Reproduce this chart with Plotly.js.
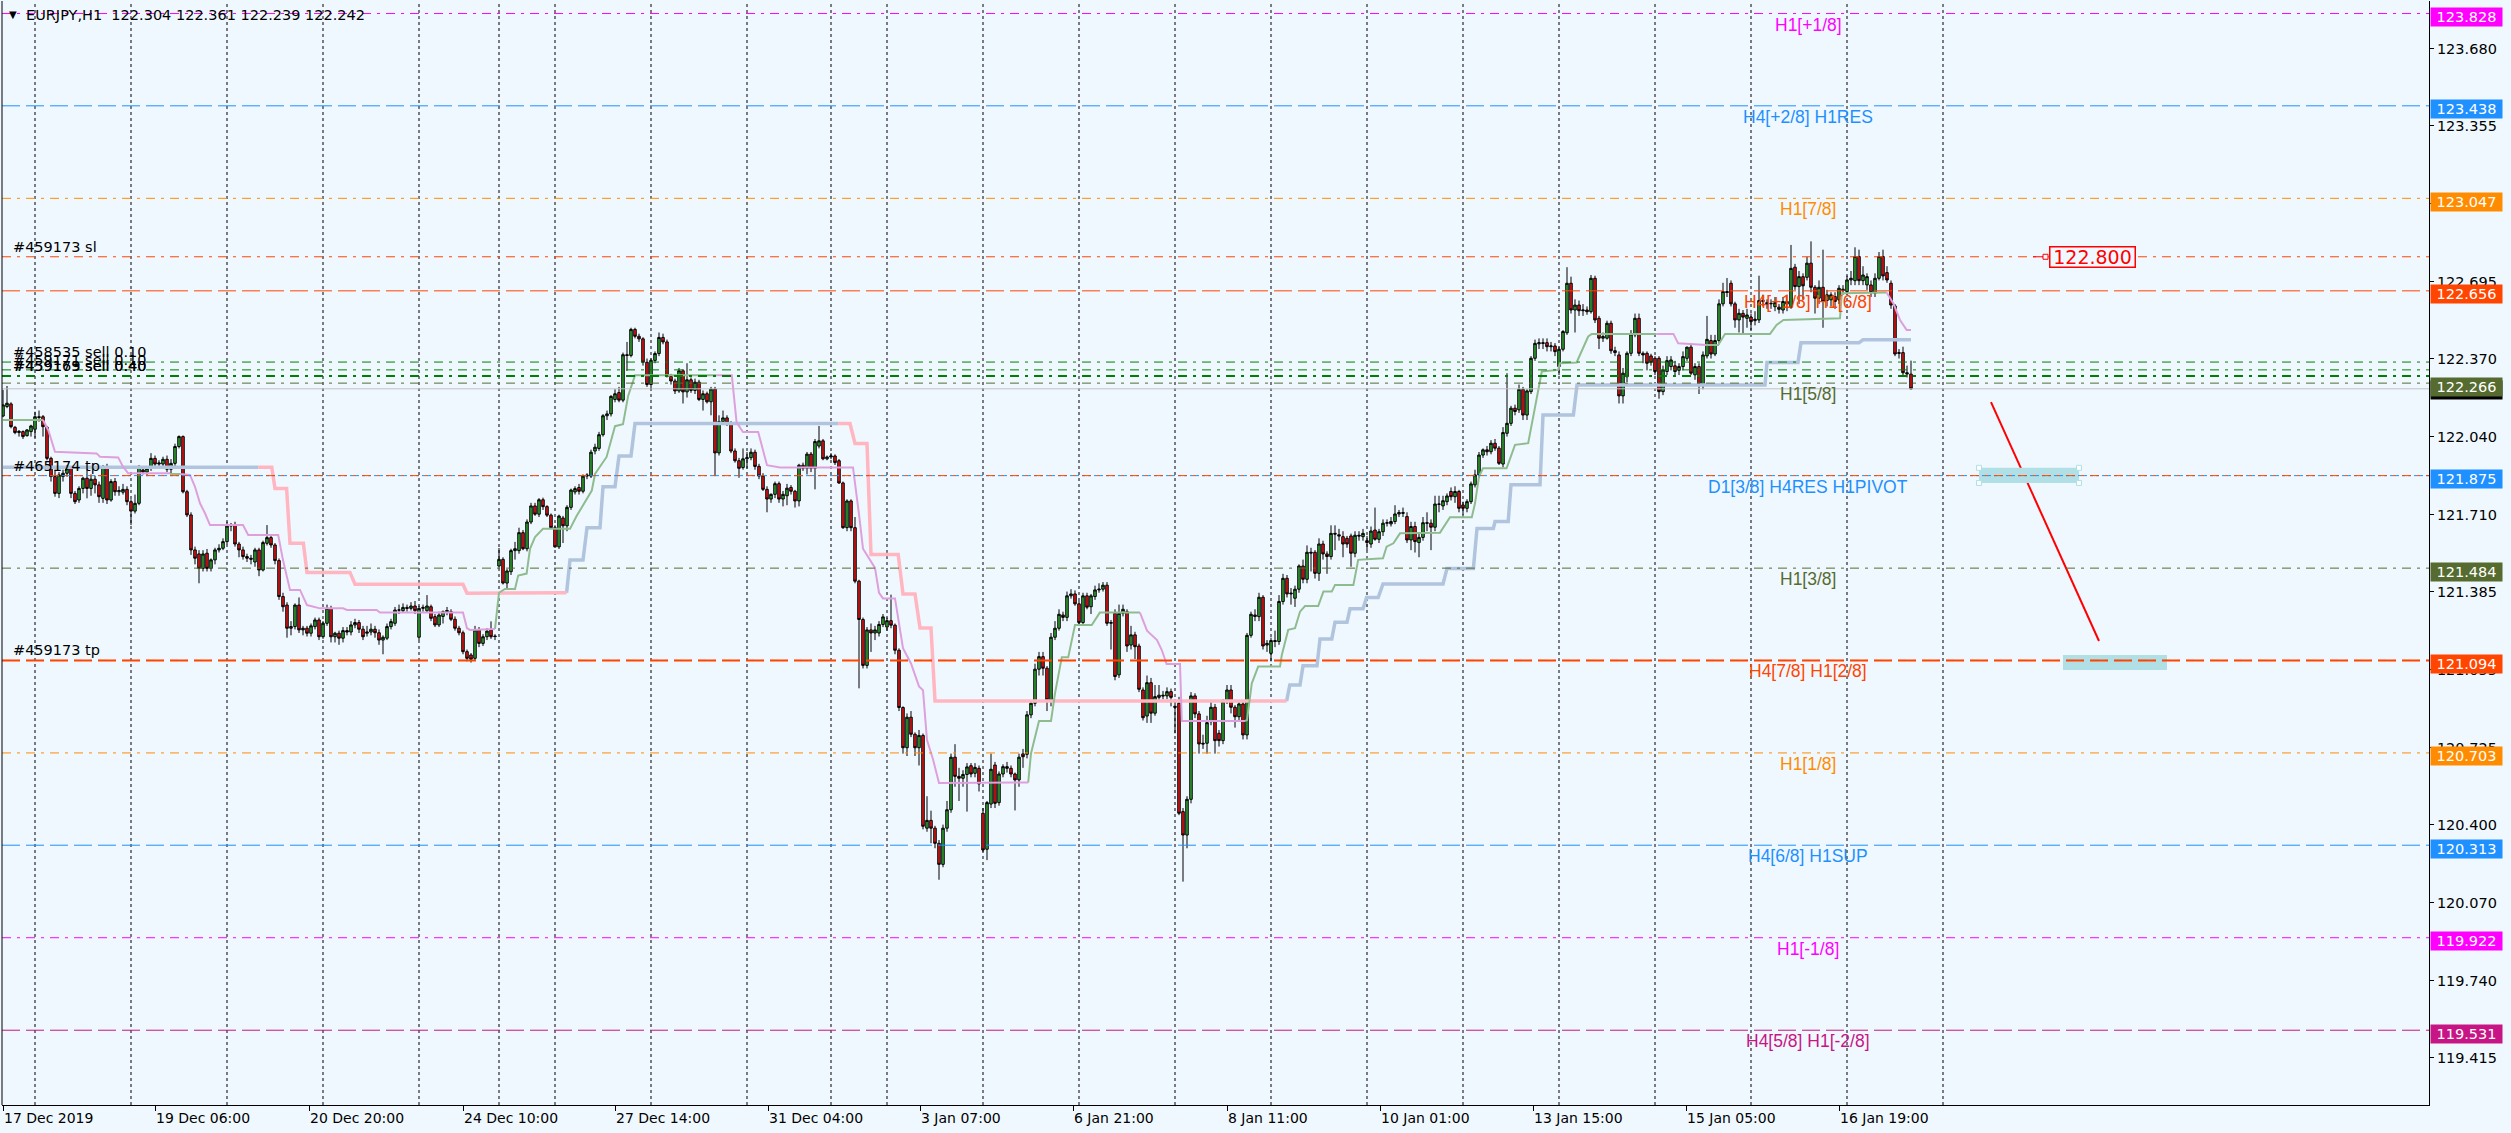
<!DOCTYPE html>
<html><head><meta charset="utf-8">
<script src="https://cdn.plot.ly/plotly-3.0.1.min.js"></script>
<style>html,body{margin:0;padding:0;background:#F0F8FF;overflow:hidden}#chart{width:2511px;height:1133px}</style>
</head><body><div id="chart"></div>
<script>
// ---------- OHLC data (EURJPY H1, bar index 0 = 17 Dec 2019 16:00) ----------
const barOpen = [
122.127,122.167,122.178,122.079,122.057,122.061,122.044,122.061,122.071,122.124,
122.124,122.079,121.948,121.871,121.800,121.871,121.885,121.906,121.800,121.772,
121.821,121.864,121.821,121.860,121.836,121.779,121.913,121.772,121.850,121.807,
121.805,121.817,121.765,121.725,121.758,121.899,121.890,121.906,121.948,121.924,
121.924,121.944,121.902,121.927,121.998,122.040,121.807,121.709,121.561,121.544,
121.483,121.547,121.483,121.519,121.561,121.568,121.596,121.662,121.666,121.586,
121.561,121.533,121.526,121.510,121.561,121.476,121.589,121.613,121.582,121.516,
121.364,121.328,121.230,121.237,121.328,121.223,121.230,121.209,121.237,121.265,
121.194,121.251,121.314,121.194,121.209,121.188,121.220,121.214,121.244,121.254,
121.226,121.209,121.214,121.226,121.211,121.180,121.188,121.237,121.251,121.307,
121.304,121.318,121.314,121.324,121.192,121.314,121.304,121.321,121.279,121.244,
121.280,121.300,121.300,121.268,121.230,121.211,121.131,121.117,121.103,121.223,
121.166,121.194,121.223,121.197,121.493,121.521,121.421,121.469,121.558,121.558,
121.634,121.566,121.679,121.747,121.712,121.773,121.744,121.708,121.655,121.574,
121.696,121.663,121.741,121.806,121.825,121.809,121.873,121.873,121.979,121.990,
122.048,122.128,122.136,122.197,122.226,122.194,122.386,122.383,122.493,122.464,
122.453,122.354,122.260,122.362,122.391,122.459,122.440,122.294,122.275,122.233,
122.318,122.229,122.280,122.235,122.270,122.197,122.221,122.187,122.241,121.971,
122.103,122.119,122.097,121.979,121.938,121.909,121.946,121.951,121.974,121.914,
121.873,121.817,121.776,121.796,121.841,121.776,121.790,121.825,121.809,121.768,
121.919,121.906,121.966,121.906,122.000,122.022,121.946,121.954,121.958,121.938,
121.844,121.655,121.768,121.655,121.429,121.267,121.073,121.223,121.210,121.210,
121.246,121.235,121.262,121.243,121.137,120.895,120.725,120.854,120.782,120.725,
120.777,120.385,120.418,120.385,120.321,120.232,120.385,120.463,120.685,120.604,
120.596,120.612,120.649,120.617,120.638,120.448,120.296,120.487,120.652,120.493,
120.614,120.645,120.638,120.614,120.589,120.699,120.697,120.864,120.913,121.057,
121.110,121.061,120.927,121.192,121.230,121.286,121.276,121.367,121.375,121.333,
121.254,121.367,121.321,121.364,121.392,121.395,121.412,121.251,121.293,121.033,
121.293,121.300,121.159,121.202,121.155,120.969,120.859,121.000,120.871,120.938,
120.947,120.944,120.962,120.900,120.913,120.455,120.356,120.507,120.944,120.868,
120.744,120.744,120.835,120.896,120.786,120.755,120.920,120.969,120.896,120.856,
120.910,120.779,121.200,121.286,121.279,121.361,121.159,121.124,121.178,121.174,
121.343,121.441,121.375,121.357,121.395,121.493,121.437,121.551,121.551,121.462,
121.586,121.544,121.533,121.631,121.625,121.617,121.610,121.620,121.547,121.623,
121.617,121.600,121.586,121.645,121.606,121.638,121.674,121.671,121.681,121.713,
121.719,121.702,121.603,121.660,121.592,121.614,121.676,121.674,121.657,121.755,
121.747,121.765,121.808,121.786,121.808,121.751,121.737,121.765,121.836,121.878,
121.962,121.984,121.976,122.012,121.991,121.924,122.054,122.096,122.160,122.153,
122.240,122.131,122.230,122.371,122.432,122.437,122.437,122.420,122.423,122.336,
122.409,122.479,122.688,122.575,122.596,122.572,122.575,122.568,122.709,122.540,
122.456,122.456,122.519,122.403,122.385,122.212,122.293,122.392,122.470,122.540,
122.392,122.392,122.381,122.371,122.371,122.230,122.315,122.336,122.339,122.320,
122.336,122.371,122.418,122.301,122.336,122.258,122.381,122.446,122.389,122.446,
122.601,122.653,122.688,122.601,122.533,122.561,122.540,122.545,122.530,122.533,
122.611,122.606,122.601,122.589,122.587,122.575,122.600,122.587,122.756,122.674,
122.716,122.713,122.773,122.671,122.625,122.671,122.615,122.618,122.632,122.618,
122.663,122.653,122.702,122.699,122.801,122.699,122.681,122.681,122.646,122.709,
122.801,122.733,122.688,122.592,122.395,122.395,122.310,122.304];
const barHigh = [
122.237,122.254,122.185,122.085,122.068,122.066,122.072,122.090,122.145,122.150,
122.131,122.085,121.955,121.900,121.890,121.900,121.920,121.915,121.810,121.830,
121.870,121.913,121.880,121.875,121.850,121.920,121.925,121.860,121.865,121.830,
121.840,121.830,121.775,121.795,121.920,121.915,121.915,121.970,121.960,121.940,
121.955,121.960,121.945,122.010,122.045,122.045,121.815,121.720,121.575,121.560,
121.560,121.565,121.525,121.570,121.585,121.610,121.680,121.675,121.680,121.595,
121.575,121.545,121.540,121.570,121.570,121.600,121.666,121.625,121.590,121.525,
121.380,121.340,121.260,121.335,121.360,121.240,121.240,121.250,121.275,121.275,
121.260,121.330,121.325,121.215,121.220,121.235,121.235,121.260,121.270,121.265,
121.240,121.240,121.250,121.240,121.225,121.200,121.250,121.270,121.320,121.330,
121.335,121.330,121.340,121.345,121.325,121.330,121.370,121.330,121.290,121.300,
121.305,121.320,121.310,121.280,121.240,121.220,121.140,121.125,121.240,121.235,
121.205,121.230,121.259,121.205,121.569,121.530,121.480,121.566,121.595,121.655,
121.645,121.690,121.760,121.760,121.780,121.782,121.750,121.715,121.665,121.710,
121.705,121.750,121.820,121.830,121.840,121.880,121.885,121.985,122.010,122.060,
122.135,122.150,122.215,122.240,122.250,122.395,122.440,122.500,122.500,122.475,
122.460,122.370,122.370,122.400,122.480,122.475,122.450,122.305,122.285,122.330,
122.325,122.350,122.290,122.285,122.280,122.235,122.230,122.250,122.250,122.130,
122.150,122.130,122.105,121.990,121.950,121.990,121.975,121.990,121.985,121.925,
121.885,121.830,121.800,121.850,121.850,121.810,121.840,121.835,121.815,121.925,
121.930,121.975,121.975,122.030,122.085,122.030,121.960,121.970,121.965,121.945,
121.850,121.775,121.775,121.700,121.435,121.275,121.235,121.250,121.240,121.260,
121.290,121.275,121.372,121.250,121.145,120.900,120.870,120.880,120.790,120.800,
120.785,120.520,120.459,120.395,120.335,120.400,120.500,120.700,120.740,120.640,
120.630,120.660,120.660,120.660,120.650,120.470,120.500,120.700,120.665,120.625,
120.655,120.665,120.650,120.620,120.700,120.720,120.880,120.920,121.080,121.130,
121.130,121.070,121.210,121.260,121.310,121.300,121.385,121.395,121.390,121.345,
121.380,121.380,121.375,121.410,121.420,121.425,121.425,121.265,121.310,121.330,
121.330,121.310,121.240,121.215,121.165,120.980,121.030,121.020,120.990,120.990,
120.965,120.980,120.975,120.930,120.940,120.470,120.520,120.960,120.955,120.880,
120.780,120.860,120.920,120.910,120.800,120.930,120.990,120.990,120.905,120.920,
120.925,121.210,121.300,121.310,121.380,121.370,121.180,121.190,121.220,121.370,
121.460,121.455,121.400,121.410,121.500,121.520,121.580,121.570,121.560,121.610,
121.600,121.555,121.665,121.665,121.650,121.640,121.620,121.630,121.640,121.640,
121.650,121.620,121.660,121.740,121.650,121.690,121.690,121.700,121.750,121.730,
121.740,121.720,121.680,121.680,121.630,121.700,121.720,121.690,121.790,121.790,
121.790,121.800,121.825,121.830,121.815,121.765,121.775,121.850,121.900,121.975,
121.990,122.000,122.025,122.030,122.000,122.080,122.308,122.170,122.175,122.260,
122.250,122.240,122.380,122.450,122.455,122.455,122.455,122.440,122.435,122.420,
122.490,122.756,122.716,122.620,122.615,122.600,122.590,122.723,122.720,122.550,
122.480,122.530,122.530,122.420,122.400,122.330,122.400,122.490,122.560,122.560,
122.400,122.400,122.390,122.380,122.380,122.340,122.380,122.380,122.360,122.350,
122.400,122.420,122.430,122.350,122.350,122.400,122.550,122.470,122.470,122.620,
122.690,122.710,122.700,122.610,122.580,122.575,122.580,122.560,122.570,122.720,
122.640,122.620,122.620,122.630,122.600,122.630,122.640,122.850,122.770,122.740,
122.730,122.800,122.865,122.680,122.700,122.830,122.660,122.650,122.650,122.680,
122.680,122.720,122.740,122.840,122.830,122.760,122.730,122.700,122.730,122.820,
122.830,122.760,122.700,122.600,122.410,122.420,122.340,122.361];
const barLow = [
122.122,122.160,122.075,122.050,122.040,122.030,122.040,122.040,122.035,122.103,
122.040,121.940,121.850,121.786,121.780,121.850,121.870,121.780,121.755,121.760,
121.800,121.779,121.790,121.800,121.760,121.760,121.755,121.765,121.790,121.790,
121.795,121.750,121.666,121.715,121.750,121.880,121.875,121.895,121.910,121.905,
121.915,121.890,121.880,121.915,121.990,121.800,121.700,121.540,121.500,121.420,
121.470,121.470,121.470,121.500,121.550,121.560,121.585,121.640,121.575,121.530,
121.520,121.510,121.500,121.490,121.450,121.470,121.580,121.570,121.500,121.350,
121.300,121.190,121.200,121.225,121.210,121.200,121.195,121.195,121.225,121.180,
121.185,121.240,121.170,121.170,121.160,121.170,121.200,121.200,121.230,121.210,
121.180,121.195,121.200,121.190,121.160,121.120,121.180,121.225,121.240,121.290,
121.295,121.300,121.305,121.290,121.180,121.300,121.295,121.260,121.235,121.235,
121.250,121.285,121.260,121.220,121.200,121.120,121.090,121.085,121.095,121.150,
121.155,121.180,121.185,121.180,121.485,121.415,121.400,121.455,121.520,121.545,
121.560,121.555,121.670,121.705,121.700,121.730,121.700,121.650,121.570,121.565,
121.590,121.640,121.730,121.795,121.795,121.800,121.860,121.865,121.965,121.980,
122.040,122.110,122.125,122.185,122.185,122.185,122.318,122.375,122.455,122.440,
122.340,122.250,122.240,122.350,122.380,122.430,122.290,122.260,122.220,122.225,
122.180,122.205,122.225,122.220,122.190,122.150,122.180,122.130,121.873,121.960,
122.090,122.085,121.970,121.930,121.866,121.900,121.905,121.940,121.900,121.860,
121.810,121.720,121.760,121.780,121.760,121.745,121.750,121.795,121.740,121.745,
121.895,121.880,121.890,121.817,121.990,121.940,121.940,121.945,121.920,121.840,
121.650,121.640,121.640,121.420,120.976,121.060,121.060,121.130,121.180,121.195,
121.235,121.220,121.230,121.120,120.880,120.700,120.690,120.770,120.690,120.650,
120.380,120.370,120.321,120.300,120.167,120.220,120.370,120.450,120.560,120.500,
120.560,120.455,120.600,120.600,120.540,120.285,120.250,120.470,120.470,120.480,
120.600,120.620,120.600,120.460,120.560,120.640,120.680,120.850,120.900,121.030,
121.030,120.880,120.900,121.180,121.220,121.260,121.260,121.355,121.325,121.245,
121.240,121.310,121.290,121.350,121.380,121.385,121.240,121.140,121.010,121.020,
121.280,121.130,121.140,121.100,120.960,120.840,120.830,120.830,120.860,120.920,
120.930,120.930,120.900,120.786,120.440,120.159,120.300,120.490,120.850,120.700,
120.720,120.700,120.820,120.700,120.730,120.740,120.910,120.870,120.810,120.840,
120.760,120.760,121.190,121.260,121.260,121.140,121.130,121.090,121.150,121.160,
121.330,121.360,121.330,121.320,121.380,121.420,121.420,121.470,121.440,121.430,
121.520,121.460,121.520,121.560,121.600,121.530,121.570,121.490,121.530,121.600,
121.600,121.560,121.570,121.600,121.590,121.620,121.660,121.660,121.670,121.700,
121.700,121.590,121.560,121.550,121.530,121.600,121.640,121.560,121.640,121.720,
121.730,121.750,121.770,121.760,121.720,121.710,121.720,121.755,121.825,121.865,
121.950,121.960,121.965,121.980,121.920,121.910,122.040,122.085,122.130,122.140,
122.110,122.110,122.220,122.360,122.410,122.410,122.400,122.400,122.380,122.300,
122.400,122.470,122.560,122.480,122.550,122.550,122.555,122.560,122.520,122.410,
122.440,122.450,122.390,122.380,122.180,122.180,122.270,122.380,122.460,122.380,
122.350,122.320,122.340,122.300,122.200,122.215,122.300,122.320,122.300,122.300,
122.320,122.360,122.300,122.280,122.220,122.240,122.370,122.370,122.380,122.430,
122.590,122.630,122.590,122.500,122.480,122.470,122.500,122.490,122.510,122.520,
122.590,122.580,122.580,122.570,122.560,122.560,122.570,122.580,122.660,122.600,
122.620,122.700,122.650,122.560,122.600,122.500,122.590,122.590,122.580,122.600,
122.640,122.640,122.680,122.680,122.680,122.680,122.660,122.630,122.630,122.700,
122.700,122.690,122.580,122.380,122.370,122.300,122.290,122.239];
const barClose = [
122.174,122.181,122.082,122.057,122.062,122.040,122.068,122.085,122.124,122.121,
122.082,121.948,121.871,121.800,121.878,121.885,121.906,121.800,121.765,121.821,
121.864,121.821,121.860,121.836,121.786,121.913,121.772,121.850,121.807,121.812,
121.817,121.765,121.725,121.758,121.913,121.890,121.906,121.948,121.924,121.928,
121.944,121.902,121.927,121.998,122.040,121.807,121.709,121.561,121.526,121.483,
121.544,121.483,121.519,121.561,121.568,121.596,121.662,121.666,121.586,121.561,
121.533,121.526,121.522,121.561,121.476,121.592,121.613,121.582,121.516,121.364,
121.321,121.230,121.237,121.328,121.223,121.230,121.209,121.240,121.265,121.194,
121.251,121.314,121.194,121.209,121.188,121.220,121.214,121.244,121.254,121.226,
121.194,121.214,121.226,121.211,121.180,121.192,121.237,121.258,121.307,121.307,
121.318,121.314,121.324,121.304,121.314,121.318,121.324,121.272,121.244,121.286,
121.300,121.305,121.268,121.230,121.211,121.131,121.103,121.099,121.223,121.166,
121.194,121.218,121.194,121.195,121.521,121.421,121.472,121.558,121.566,121.634,
121.566,121.679,121.747,121.712,121.773,121.744,121.708,121.655,121.574,121.704,
121.663,121.741,121.814,121.820,121.809,121.873,121.877,121.974,121.995,122.048,
122.128,122.136,122.210,122.221,122.194,122.386,122.383,122.493,122.464,122.453,
122.354,122.260,122.362,122.391,122.459,122.440,122.294,122.275,122.233,122.318,
122.229,122.280,122.235,122.270,122.197,122.221,122.187,122.241,121.971,122.103,
122.119,122.097,121.979,121.938,121.906,121.946,121.951,121.974,121.914,121.873,
121.817,121.776,121.796,121.841,121.776,121.796,121.822,121.809,121.768,121.919,
121.906,121.966,121.906,122.019,122.022,121.946,121.954,121.958,121.930,121.844,
121.655,121.768,121.655,121.429,121.267,121.073,121.223,121.210,121.223,121.246,
121.278,121.262,121.243,121.137,120.895,120.725,120.854,120.782,120.725,120.777,
120.393,120.418,120.385,120.321,120.232,120.385,120.463,120.685,120.604,120.596,
120.612,120.644,120.614,120.642,120.572,120.293,120.493,120.634,120.490,120.614,
120.645,120.638,120.614,120.589,120.685,120.687,120.864,120.913,121.057,121.110,
121.061,120.927,121.192,121.230,121.289,121.276,121.367,121.375,121.333,121.254,
121.367,121.319,121.367,121.392,121.395,121.412,121.251,121.254,121.026,121.293,
121.310,121.155,121.202,121.152,120.972,120.852,121.000,120.871,120.941,120.947,
120.944,120.962,120.938,120.896,120.448,120.356,120.507,120.944,120.868,120.741,
120.741,120.831,120.896,120.755,120.755,120.920,120.969,120.896,120.856,120.910,
120.779,121.200,121.289,121.280,121.361,121.155,121.166,121.178,121.174,121.343,
121.441,121.375,121.378,121.395,121.493,121.437,121.551,121.548,121.462,121.586,
121.544,121.533,121.631,121.628,121.620,121.586,121.586,121.547,121.623,121.620,
121.631,121.592,121.641,121.606,121.638,121.674,121.676,121.681,121.713,121.719,
121.716,121.603,121.660,121.596,121.614,121.676,121.674,121.657,121.755,121.754,
121.769,121.789,121.786,121.808,121.737,121.737,121.765,121.840,121.878,121.962,
121.984,121.976,122.012,121.991,121.927,122.057,122.096,122.160,122.146,122.240,
122.131,122.233,122.371,122.434,122.437,122.434,122.420,122.423,122.399,122.409,
122.484,122.688,122.575,122.596,122.572,122.575,122.568,122.709,122.533,122.456,
122.463,122.519,122.403,122.395,122.212,122.308,122.392,122.474,122.540,122.392,
122.385,122.350,122.353,122.315,122.230,122.322,122.361,122.364,122.315,122.336,
122.378,122.418,122.308,122.336,122.258,122.385,122.451,122.389,122.446,122.601,
122.653,122.649,122.601,122.533,122.561,122.545,122.554,122.526,122.536,122.615,
122.615,122.601,122.603,122.606,122.578,122.611,122.611,122.751,122.674,122.716,
122.677,122.773,122.671,122.625,122.671,122.611,122.639,122.639,122.611,122.667,
122.657,122.702,122.709,122.801,122.699,122.723,122.716,122.649,122.709,122.801,
122.719,122.702,122.596,122.389,122.392,122.310,122.305,122.242];

// ---------- time axis ----------
const timeTickBars = [0, 38, 76.5, 115, 153, 191.25, 229.25, 267.5, 306, 344.25, 382.5, 420.75, 459];
const timeTickText = ['17 Dec 2019','19 Dec 06:00','20 Dec 20:00','24 Dec 10:00','27 Dec 14:00','31 Dec 04:00','3 Jan 07:00','6 Jan 21:00','8 Jan 11:00','10 Jan 01:00','13 Jan 15:00','15 Jan 05:00','16 Jan 19:00'];
const daySeparatorBars = [8,32,56,80,104,124,138,162,186,207,221,245,269,293,317,341,365,389,413,437,461,485];

// ---------- price axis ----------
const priceTicks = [123.680,123.355,123.025,122.695,122.370,122.040,121.710,121.385,121.055,120.725,120.400,120.070,119.740,119.415];

// ---------- Murrey levels ----------
const levelPrice = [123.828,123.438,123.047,122.656,122.266,121.875,121.484,121.094,120.703,120.313,119.922,119.531];
const levelLabel = ['H1[+1/8]','H4[+2/8] H1RES','H1[7/8]','H4[+1/8] H1[6/8]','H1[5/8]','D1[3/8] H4RES H1PIVOT','H1[3/8]','H4[7/8] H1[2/8]','H1[1/8]','H4[6/8] H1SUP','H1[-1/8]','H4[5/8] H1[-2/8]'];

// ---------- orders ----------
const orderPrice = [122.800,122.355,122.322,122.296,122.296,121.875,121.094];
const orderLabel = ['#459173 sl','#458535 sell 0.10','#459171 sell 0.10','#459169 sell 0.40','#459173 sell 0.40','#465174 tp','#459173 tp'];
const bidPrice = 122.242;
const titleText = 'EURJPY,H1\u00a0\u00a0122.304 122.361 122.239 122.242';
const priceLabelValue = 122.800;
const priceLabelBar = 511.5;

// ---------- indicator: band line (steel blue = up, pink = down) ----------
const bandUpX = [0,63.8,null,140.9,141.75,145,146,149.25,150,153,154,157,158,208.8,null,
 320.9,321.7,324.25,325,328.5,329.25,332.2,333,336,336.75,340,340.9,343.8,345,360,361,367.6,368.5,372.6,373,376.3,377,384.25,385,392.6,393.5,440.5,441,448.75,449.5,464,465,477];
const bandUpY = [121.910,121.910,null,121.380,121.518,121.518,121.655,121.655,121.828,121.828,121.958,121.958,122.095,122.095,null,
 120.922,120.990,120.990,121.071,121.071,121.185,121.185,121.255,121.255,121.312,121.312,121.360,121.360,121.417,121.417,121.483,121.483,121.652,121.652,121.681,121.681,121.836,121.836,122.131,122.131,122.258,122.258,122.353,122.353,122.437,122.437,122.449,122.449];
const bandDnX = [63.8,67.2,68,70.9,71.75,75.1,76,86.75,88,115,116,140.9,null,
 208.8,211.75,213,216,217,223.8,225,228,229.25,232,233,320.9];
const bandDnY = [121.910,121.910,121.821,121.821,121.589,121.589,121.466,121.466,121.416,121.416,121.378,121.380,null,
 122.095,122.095,122.011,122.011,121.542,121.542,121.375,121.375,121.231,121.231,120.922,120.922];

// ---------- indicator: trail line (dark sea green = up, plum = down) ----------
const trailUpX = [0,10,null,41.75,44.25,null,
 123,124,125.5,128,128.8,130.9,131.75,133,135,141.75,143.4,145.9,147.2,148,150.9,153,155,156.3,158,178.4,null,
 256.3,257,259,262,263,264.7,266.3,268,272.2,274.2,284.25,null,
 310.5,311,312.2,313.8,319.25,319.7,321.3,323,324.25,325.5,328.8,330.1,332.2,333,337.6,338.8,345,345.9,347.6,349.25,359.25,361.75,367.2,368,369,370,375.9,378,381.3,384.7,388.8,389.25,393.4,394.25,396.3,397.2,413.4,null,
 425.9,428.8,430.5,441.75,443.4,445.1,459.25,459.7,470.9];
const trailUpY = [122.110,122.110,null,121.882,121.882,null,
 121.227,121.380,121.396,121.396,121.453,121.461,121.566,121.615,121.650,121.650,121.704,121.776,121.812,121.882,121.954,122.084,122.092,122.213,122.299,122.299,null,
 120.578,120.701,120.838,120.838,120.955,121.107,121.107,121.244,121.244,121.296,121.296,null,
 120.838,120.842,120.997,121.068,121.068,121.117,121.223,121.230,121.300,121.324,121.324,121.385,121.385,121.413,121.413,121.519,121.526,121.575,121.589,121.631,121.634,121.699,121.699,121.758,121.871,121.906,121.906,122.005,122.012,122.315,122.322,122.350,122.353,122.385,122.463,122.474,122.474,null,
 122.427,122.427,122.474,122.474,122.512,122.533,122.540,122.646,122.649];
const trailDnX = [10,11.3,13,23.4,24.25,28.8,30,31.3,41.75,null,
 44.25,46.75,48,49.25,50.5,51.75,60,61.3,68.8,70,71.75,74.25,76,79.25,85,86,93.4,94.25,115,116,116.75,123,null,
 178.4,182.2,183.4,185,188.8,190,191,194.25,212.5,214,215,218,219,220,223,225,227,229,230,231,232.5,234,256.3,null,
 284.25,286,288.5,289.7,290.9,294.25,294.7,310.5,null,
 413.4,417.6,418.8,425,425.9,null,
 470.9,472.6,474.25,475.9,477];
const trailDnY = [122.110,122.068,121.976,121.969,121.955,121.952,121.913,121.885,121.885,null,
 121.882,121.878,121.828,121.758,121.716,121.666,121.666,121.624,121.624,121.518,121.392,121.392,121.328,121.314,121.314,121.307,121.307,121.296,121.296,121.230,121.223,121.227,null,
 122.299,122.299,122.100,122.059,122.059,121.979,121.919,121.909,121.909,121.712,121.566,121.485,121.380,121.356,121.356,121.146,121.081,120.984,120.968,120.757,120.676,120.576,120.578,null,
 121.296,121.220,121.180,121.138,121.079,121.079,120.838,120.838,null,
 122.474,122.474,122.434,122.427,122.427,null,
 122.649,122.603,122.533,122.491,122.491];

// ---------- manual drawings ----------
const trendX = [497, 524];
const trendY = [122.186, 121.176];
const zoneX0 = [494, 515], zoneX1 = [519, 541];
const zoneY0 = [121.844, 121.054], zoneY1 = [121.908, 121.117];

// ================= styles =================
const DASH = '18px,6px', DASHDOT = '9px,6px,3px,6px', DOT = '3px,3px';
const levelColor = ['#FF00FF','#1E90FF','#FF8C00','#FF4500','#556B2F','#1E90FF','#556B2F','#FF4500','#FF8C00','#1E90FF','#FF00FF','#C71585'];
const levelDash = [DASHDOT,DASH,DASHDOT,DASH,DASHDOT,DOT,DASHDOT,DASH,DASHDOT,DASH,DASHDOT,DASH];
const levelWidth = [1,1,1,1,1,1,1,2,1,1,1,1];
const orderColor = ['#FF4500','#008000','#008000','#008000','#008000','#FF4500','#FF4500'];
const orderWidth = [1,1,1,2,2,1,1];
const FONT = 'DejaVu Sans, Verdana, sans-serif';
const LFONT = 'Liberation Sans, Arial, sans-serif';

const barIndex = barOpen.map((_, i) => i);

const traces = [
  {type:'scatter', mode:'lines', x:bandUpX, y:bandUpY, line:{color:'#B0C4DE', width:3.5}, hoverinfo:'skip', showlegend:false, connectgaps:false},
  {type:'scatter', mode:'lines', x:bandDnX, y:bandDnY, line:{color:'#FFB6C1', width:3.5}, hoverinfo:'skip', showlegend:false, connectgaps:false},
  {type:'scatter', mode:'lines', x:trailUpX, y:trailUpY, line:{color:'#8FBC8F', width:2}, hoverinfo:'skip', showlegend:false, connectgaps:false},
  {type:'scatter', mode:'lines', x:trailDnX, y:trailDnY, line:{color:'#DDA0DD', width:2}, hoverinfo:'skip', showlegend:false, connectgaps:false},
  {type:'candlestick', x:barIndex, open:barOpen, high:barHigh, low:barLow, close:barClose,
   increasing:{line:{color:'#000000', width:1}, fillcolor:'#32A832'},
   decreasing:{line:{color:'#000000', width:1}, fillcolor:'#E81515'},
   whiskerwidth:0, hoverinfo:'skip', showlegend:false},
  {type:'scatter', mode:'lines', x:trendX, y:trendY, line:{color:'#FF0000', width:2}, hoverinfo:'skip', showlegend:false}
];

const shapes = [];
daySeparatorBars.forEach(b => shapes.push({type:'line', xref:'x', yref:'paper', x0:b, x1:b, y0:0, y1:1, layer:'below', line:{color:'#000000', width:1, dash:DOT}}));
for (let i = 0; i < zoneX0.length; i++) {
  shapes.push({type:'rect', xref:'x', yref:'y', x0:zoneX0[i], x1:zoneX1[i], y0:zoneY0[i], y1:zoneY1[i], fillcolor:'#B0E0E6', line:{width:0}, layer:'above'});
}
levelPrice.forEach((p, i) => shapes.push({type:'line', xref:'paper', yref:'y', x0:0, x1:1, y0:p, y1:p, layer:'above', line:{color:levelColor[i], width:levelWidth[i], dash:levelDash[i]}}));
orderPrice.forEach((p, i) => shapes.push({type:'line', xref:'paper', yref:'y', x0:0, x1:1, y0:p, y1:p, layer:'above', line:{color:orderColor[i], width:orderWidth[i], dash:DASHDOT}}));
shapes.push({type:'line', xref:'paper', yref:'y', x0:0, x1:1, y0:bidPrice, y1:bidPrice, layer:'above', line:{color:'#C0C0C0', width:1}});
[[zoneX0[0], zoneY0[0]],[zoneX1[0], zoneY0[0]],[zoneX0[0], zoneY1[0]],[zoneX1[0], zoneY1[0]]].forEach(([hx, hy]) => {
  shapes.push({type:'rect', xref:'x', yref:'y', xsizemode:'pixel', ysizemode:'pixel', xanchor:hx, yanchor:hy, x0:-2.5, x1:2.5, y0:-2.5, y1:2.5, fillcolor:'#FFFFFF', line:{color:'#B0E0E6', width:1}, layer:'above'});
});
shapes.push({type:'line', xref:'x', yref:'y', xsizemode:'pixel', xanchor:priceLabelBar, x0:-16, x1:-5, y0:priceLabelValue, y1:priceLabelValue, line:{color:'#FF0000', width:1}, layer:'above'});
shapes.push({type:'rect', xref:'x', yref:'y', xsizemode:'pixel', ysizemode:'pixel', xanchor:priceLabelBar, yanchor:priceLabelValue, x0:-6, x1:-1, y0:-2.5, y1:2.5, fillcolor:'#F0F8FF', line:{color:'#FF0000', width:1}, layer:'above'});
shapes.push({type:'line', xref:'paper', yref:'paper', x0:0, x1:0, y0:0, y1:1, line:{color:'#000000', width:1}, layer:'above'});

const annotations = [];
annotations.push({xref:'paper', yref:'paper', x:0, y:1, xanchor:'left', yanchor:'middle', xshift:5, yshift:-13, text:'\u25BC', showarrow:false, font:{family:FONT, size:10, color:'#000000'}});
annotations.push({xref:'paper', yref:'paper', x:0, y:1, xanchor:'left', yanchor:'middle', xshift:22, yshift:-14, text:titleText, showarrow:false, font:{family:FONT, size:14.5, color:'#000000'}});
levelPrice.forEach((p, i) => annotations.push({xref:'x', yref:'y', x:451.25, y:p, xanchor:'center', yanchor:'middle', yshift:-11, text:levelLabel[i], showarrow:false, font:{family:LFONT, size:17.5, color:levelColor[i]}}));
orderPrice.forEach((p, i) => annotations.push({xref:'paper', yref:'y', x:0, y:p, xanchor:'left', yanchor:'middle', xshift:9, yshift:10, text:orderLabel[i], showarrow:false, font:{family:FONT, size:14.5, color:'#000000'}}));
annotations.push({xref:'paper', yref:'y', x:1, y:bidPrice, xanchor:'left', yanchor:'middle', xshift:1, yshift:-1, text:bidPrice.toFixed(3), showarrow:false, bgcolor:'#000000', borderpad:2, width:67, height:14, align:'center', font:{family:FONT, size:14.5, color:'#FFFFFF'}});
levelPrice.forEach((p, i) => annotations.push({xref:'paper', yref:'y', x:1, y:p, xanchor:'left', yanchor:'middle', xshift:1, yshift:-3.4, text:p.toFixed(3), showarrow:false, bgcolor:levelColor[i], borderpad:2, width:67, height:14, align:'center', font:{family:FONT, size:14.5, color:'#FFFFFF'}}));
annotations.push({xref:'x', yref:'y', x:priceLabelBar, y:priceLabelValue, xanchor:'left', yanchor:'middle', text:priceLabelValue.toFixed(3), showarrow:false, bgcolor:'#F0F8FF', bordercolor:'#FF0000', borderwidth:1.5, borderpad:1, width:82, height:17, align:'center', font:{family:FONT, size:19, color:'#FF0000'}});

const layout = {
  width:2511, height:1133,
  paper_bgcolor:'#F0F8FF', plot_bgcolor:'#F0F8FF',
  margin:{l:2, r:82, t:1, b:28},
  showlegend:false,
  boxgap:0.1,
  xaxis:{type:'linear', range:[-0.25, 606.5], showgrid:false, zeroline:false, rangeslider:{visible:false},
    tickmode:'array', tickvals:timeTickBars, ticktext:timeTickText, ticks:'outside', ticklen:5, tickcolor:'#000000', tickwidth:1,
    ticklabelposition:'outside right', showline:true, linecolor:'#000000', linewidth:1, mirror:false,
    tickfont:{family:FONT, size:14, color:'#000000'}, fixedrange:true},
  yaxis:{type:'linear', side:'right', range:[119.215, 123.881], showgrid:false, zeroline:false,
    tickmode:'array', tickvals:priceTicks, ticktext:priceTicks.map(v => v.toFixed(3)), ticks:'outside', ticklen:4, tickcolor:'#000000',
    showline:true, linecolor:'#000000', linewidth:1, tickfont:{family:FONT, size:14.5, color:'#000000'}, fixedrange:true},
  shapes:shapes, annotations:annotations
};

Plotly.newPlot('chart', traces, layout, {staticPlot:true, displayModeBar:false});
</script></body></html>
